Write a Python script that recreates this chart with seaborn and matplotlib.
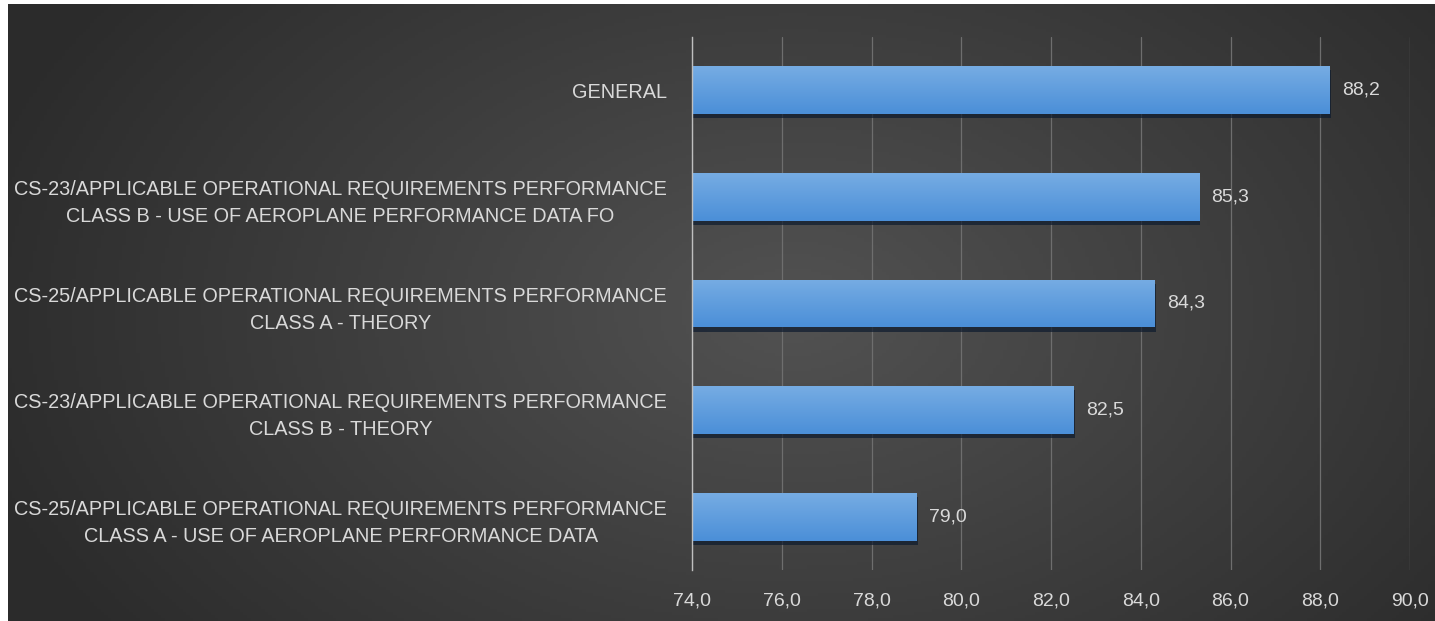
import numpy as np
import pandas as pd
import matplotlib
matplotlib.use("Agg")
import matplotlib.pyplot as plt
import matplotlib.patheffects as pe
from matplotlib.colors import LinearSegmentedColormap
import seaborn as sns

# data
categories = [
    "GENERAL",
    "CS-23/APPLICABLE OPERATIONAL REQUIREMENTS PERFORMANCE\nCLASS B - USE OF AEROPLANE PERFORMANCE DATA FO",
    "CS-25/APPLICABLE OPERATIONAL REQUIREMENTS PERFORMANCE\nCLASS A - THEORY",
    "CS-23/APPLICABLE OPERATIONAL REQUIREMENTS PERFORMANCE\nCLASS B - THEORY",
    "CS-25/APPLICABLE OPERATIONAL REQUIREMENTS PERFORMANCE\nCLASS A - USE OF AEROPLANE PERFORMANCE DATA",
]
scores = [88.2, 85.3, 84.3, 82.5, 79.0]
x_ticks = [74, 76, 78, 80, 82, 84, 86, 88, 90]
x_min, x_max = 74, 90

df = pd.DataFrame({"category": categories, "score": scores})

sns.set_theme(style="white")
plt.rcParams["font.family"] = ["Liberation Sans", "DejaVu Sans"]
text_col = "#d9d9d9"

W, H = 1435, 621
fig = plt.figure(figsize=(W / 100, H / 100), dpi=100, facecolor="white")

# dark radial background (Excel style), small white margin on left/top
bg = fig.add_axes([8 / W, 0, 1 - 8 / W, 1 - 4 / H], zorder=-1)
gx, gy = np.meshgrid(np.linspace(0, 1, 400), np.linspace(0, 1, 200))
r = np.sqrt(((gx - 0.55) / 0.6) ** 2 + ((gy - 0.5) / 0.9) ** 2)
r = np.clip(r, 0, 1)
bg_cmap = LinearSegmentedColormap.from_list("bg", ["#525252", "#2b2b2b"])
bg.imshow(r, cmap=bg_cmap, aspect="auto", extent=[0, 1, 0, 1], vmin=0, vmax=1)
bg.axis("off")

ax = fig.add_axes([692 / W, 51 / H, (1410 - 692) / W, (584 - 51) / H])
ax.set_facecolor("none")

sns.barplot(data=df, x="score", y="category", orient="h", color="#5b9bd5",
            width=0.45, linewidth=0, ax=ax, zorder=3)

ax.set_xlim(x_min, x_max)
ax.set_ylim(4.5, -0.5)
ax.set_xticks(x_ticks)
ax.set_xticklabels([f"{t:.1f}".replace(".", ",") for t in x_ticks])
ax.set_xlabel("")
ax.set_ylabel("")

ax.grid(axis="x", color="#6e6e6e", linewidth=0.9, zorder=0)
ax.grid(axis="y", visible=False)
for s in ["top", "right", "bottom"]:
    ax.spines[s].set_visible(False)
ax.spines["left"].set_color("#bfbfbf")
ax.spines["left"].set_linewidth(1.0)
ax.spines["left"].set_zorder(4)

ax.tick_params(axis="x", colors=text_col, labelsize=14, length=0, pad=16)
ax.tick_params(axis="y", colors=text_col, labelsize=14.3, length=0, pad=18)
for lbl in ax.get_yticklabels():
    lbl.set_multialignment("center")
    lbl.set_linespacing(1.55)

# gradient fill and shadow on bars
bar_cmap = LinearSegmentedColormap.from_list("bar", ["#76ace3", "#4b8fd8"])
grad = np.linspace(0, 1, 64).reshape(-1, 1)
for p in ax.patches:
    p.set_path_effects([pe.SimplePatchShadow(offset=(1, -3), shadow_rgbFace="#0d1b2e", alpha=0.7),
                        pe.Normal()])
    y0 = p.get_y()
    h = p.get_height()
    x1 = p.get_x() + p.get_width()
    im = ax.imshow(grad, cmap=bar_cmap, aspect="auto", extent=[x_min, x1, y0 + h, y0],
                   zorder=3.5, interpolation="bilinear")
    im.set_clip_path(p)
ax.set_xlim(x_min, x_max)
ax.set_ylim(4.5, -0.5)

ax.bar_label(ax.containers[0], labels=[f"{v:.1f}".replace(".", ",") for v in scores],
             padding=9, color=text_col, fontsize=14)

fig.savefig("out.png", dpi=100, facecolor=fig.get_facecolor())
